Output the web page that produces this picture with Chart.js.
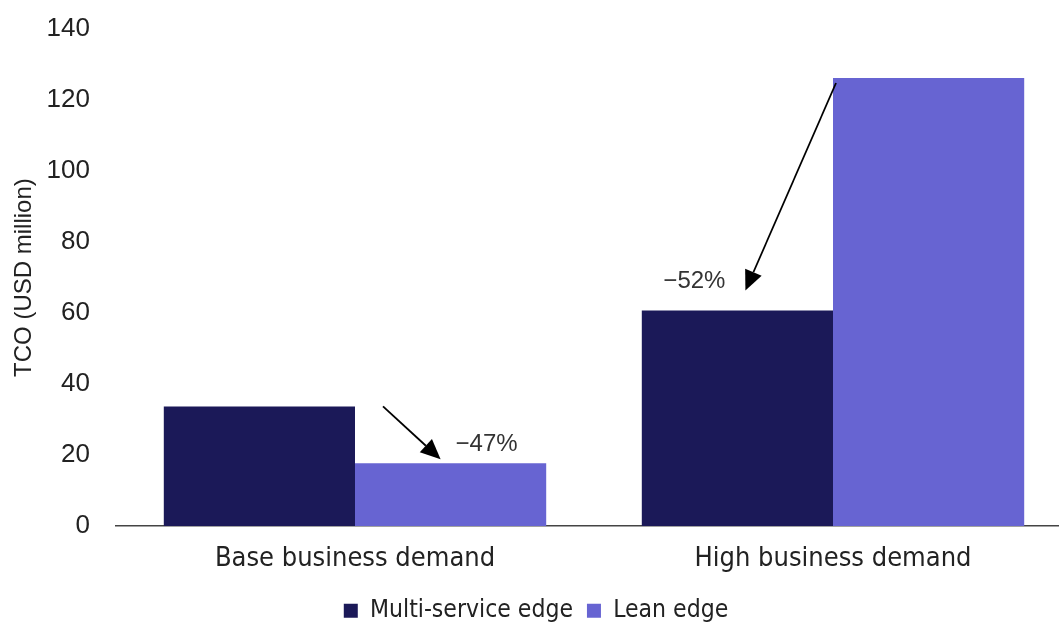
<!DOCTYPE html>
<html>
<head>
<meta charset="utf-8">
<script src="https://cdn.jsdelivr.net/npm/chart.js@4"></script>
<style>
  html, body { margin: 0; padding: 0; background: #fff; overflow: hidden; }
  #wrap { width: 1072px; height: 633px; }
</style>
</head>
<body>
<div id="wrap"><canvas id="tco"></canvas></div>
<script>
var categories = ["Base business demand", "High business demand"];
var multiService = [33.7, 60.7];
var leanEdge = [17.7, 126.2];
var changeLabels = ["\u221247%", "\u221252%"];

var dark = "#1b1958";
var light = "#6764d2";

// arrows + % labels, positioned off the drawn bars
var arrowPlugin = {
    id: 'arrows',
    afterDatasetsDraw: function (chart) {
        var ctx = chart.ctx;
        var d = chart.getDatasetMeta(0).data;
        var l = chart.getDatasetMeta(1).data;

        function arrow(x1, y1, x2, y2) {
            var ang = Math.atan2(y2 - y1, x2 - x1);
            var head = 20, hw = 9;
            var bx = x2 - head * Math.cos(ang), by = y2 - head * Math.sin(ang);
            ctx.save();
            ctx.strokeStyle = "#000";
            ctx.fillStyle = "#000";
            ctx.lineWidth = 1.8;
            ctx.beginPath();
            ctx.moveTo(x1, y1);
            ctx.lineTo(bx, by);
            ctx.stroke();
            ctx.beginPath();
            ctx.moveTo(x2, y2);
            ctx.lineTo(bx + hw * Math.sin(ang), by - hw * Math.cos(ang));
            ctx.lineTo(bx - hw * Math.sin(ang), by + hw * Math.cos(ang));
            ctx.closePath();
            ctx.fill();
            ctx.restore();
        }

        // base demand: multi-service -> lean
        arrow(d[0].x + d[0].width / 2 + 28, d[0].y, l[0].x - 10, l[0].y - 4);
        // high demand: lean -> multi-service
        arrow(l[1].x - l[1].width / 2 + 3, l[1].y + 5, d[1].x + 8, d[1].y - 20);

        ctx.save();
        ctx.fillStyle = "#333";
        ctx.font = "24px 'Liberation Sans', Arial, sans-serif";
        ctx.textAlign = "center";
        ctx.textBaseline = "middle";
        ctx.fillText(changeLabels[0], l[0].x + 36, l[0].y - 19);
        ctx.fillText(changeLabels[1], d[1].x - 43, d[1].y - 29);
        ctx.restore();
    }
};

var ctx = document.getElementById("tco").getContext("2d");
var myBarChart = new Chart(ctx, {
    type: 'bar',
    data: {
        labels: categories,
        datasets: [{
            label: "Multi-service edge",
            backgroundColor: dark,
            data: multiService
        }, {
            label: "Lean edge",
            backgroundColor: light,
            data: leanEdge
        }]
    },
    options: {
        responsive: true,
        maintainAspectRatio: false,
        animation: false,
        categoryPercentage: 0.8,
        barPercentage: 1.0,
        layout: { padding: { top: 29, right: 0, left: 0, bottom: 0 } },
        plugins: {
            tooltip: { enabled: false },
            legend: {
                position: 'bottom',
                labels: {
                    color: "#222",
                    boxWidth: 14,
                    boxHeight: 14,
                    padding: 14,
                    font: { size: 24.5, family: "'DejaVu Sans Condensed', 'Liberation Sans', sans-serif" }
                }
            }
        },
        scales: {
            x: {
                grid: { display: false },
                border: { display: true, color: "#444", width: 1.5 },
                ticks: {
                    color: "#222",
                    padding: 9,
                    font: { size: 27, family: "'DejaVu Sans Condensed', 'Liberation Sans', sans-serif" }
                }
            },
            y: {
                min: 0,
                max: 140,
                grid: { display: false, drawTicks: true, tickLength: 26 },
                border: { display: false },
                afterFit: function (s) { s.width = 116; },
                ticks: {
                    stepSize: 20,
                    color: "#222",
                    padding: 0,
                    font: { size: 26, family: "'Liberation Sans', Arial, sans-serif" }
                },
                title: {
                    display: true,
                    text: "TCO (USD million)",
                    color: "#222",
                    padding: { top: 10, bottom: 0 },
                    font: { size: 24, family: "'Liberation Sans', Arial, sans-serif" }
                }
            }
        }
    },
    plugins: [arrowPlugin]
});
</script>
</body>
</html>
